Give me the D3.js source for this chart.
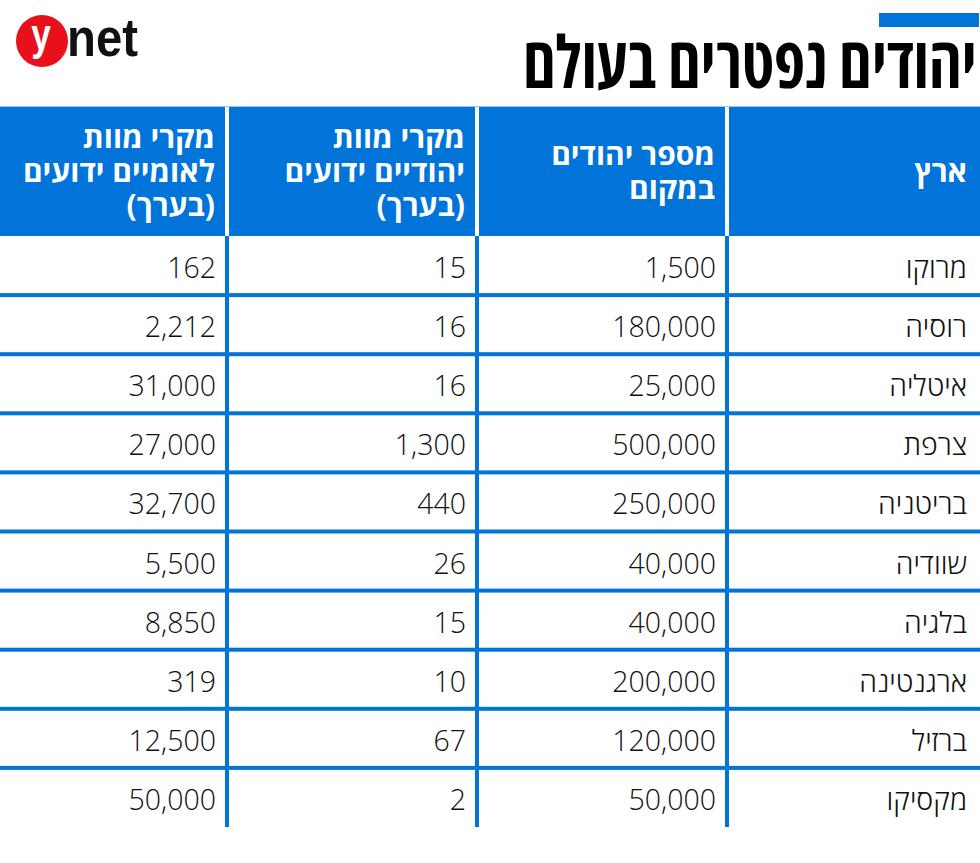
<!DOCTYPE html>
<html lang="he">
<head>
<meta charset="utf-8">
<script src="https://cdn.jsdelivr.net/npm/d3@7"></script>
<style>
  html, body { margin: 0; padding: 0; background: #fff; }
  svg { display: block; }
</style>
</head>
<body>
<svg id="chart" width="980" height="863"></svg>
<script>
// ---- data ----
const titleText = "יהודים נפטרים בעולם";
const headers = [
  ["ארץ"],
  ["מספר יהודים", "במקום"],
  ["מקרי מוות", "יהודיים ידועים", "(בערך)"],
  ["מקרי מוות", "לאומיים ידועים", "(בערך)"]
];
const countries = ["מרוקו", "רוסיה", "איטליה", "צרפת", "בריטניה", "שוודיה", "בלגיה", "ארגנטינה", "ברזיל", "מקסיקו"];
const jewishPopulation = [1500, 180000, 25000, 500000, 250000, 40000, 40000, 200000, 120000, 50000];
const jewishDeaths = [15, 16, 16, 1300, 440, 26, 15, 10, 67, 2];
const nationalDeaths = [162, 2212, 31000, 27000, 32700, 5500, 8850, 319, 12500, 50000];

// ---- styles ----
const W = 980, H = 863;
const BLUE = "#0074d9";
const FONT = "'Open Sans', 'DejaVu Sans', sans-serif";
const LOGO_FONT = "'Liberation Sans', Arial, sans-serif";

const svg = d3.select("#chart");

// columns (right to left)
const colIdx = d3.range(headers.length);
const x = d3.scaleBand().domain(colIdx).range([977, -23]); // col 0 at right
const rows = d3.range(countries.length);
const headerTop = 107, headerBottom = 236, bodyBottom = 827;
const y = d3.scaleBand().domain(rows).range([headerBottom, bodyBottom]);

const fmt = d3.format(",");
const columnsData = [
  countries,
  jewishPopulation.map(fmt),
  jewishDeaths.map(fmt),
  nationalDeaths.map(fmt)
];

// ---- logo ----
const logo = svg.append("g");
logo.append("ellipse").attr("cx", 42).attr("cy", 41).attr("rx", 26).attr("ry", 26).attr("fill", "#e8111b");
logo.append("text").text("y")
  .attr("x", 0).attr("y", 0).attr("text-anchor", "middle")
  .attr("font-family", LOGO_FONT).attr("font-weight", 700).attr("font-size", 44)
  .attr("fill", "#fff")
  .attr("transform", "translate(41,50) scale(0.8,1)");
const net = logo.append("text").text("net")
  .attr("x", 0).attr("y", 0)
  .attr("font-family", LOGO_FONT).attr("font-weight", 700).attr("font-size", 54)
  .attr("fill", "#111");
{
  const bb = net.node().getBBox();
  const sx = 71 / bb.width;
  net.attr("transform", `translate(67,56) scale(${sx},1)`);
}

// ---- title ----
svg.append("rect").attr("x", 879).attr("y", 13).attr("width", 100).attr("height", 14).attr("fill", BLUE);
const title = svg.append("text").text(titleText)
  .attr("x", 0).attr("y", 0)
  .attr("direction", "rtl")
  .attr("text-anchor", "start")
  .attr("font-family", FONT).attr("font-weight", 700).attr("font-size", 72)
  .style("font-stretch", "75%")
  .attr("fill", "#000");
{
  const bb = title.node().getBBox();
  const sx = 454 / bb.width;
  title.attr("transform", `translate(977,88) scale(${sx},1)`);
}

// ---- header cells ----
const hdr = svg.append("g");
hdr.append("rect").attr("x", 0).attr("y", headerTop - 1).attr("width", W).attr("height", 1).attr("fill", "#9cc8f0");
colIdx.forEach(i => {
  let left = x(i) + (i === headers.length - 1 ? 0 : 2);
  let right = x(i) + x.bandwidth() - (i === 0 ? -3 : 2);
  left = Math.max(0, left);
  hdr.append("rect").attr("x", left).attr("y", headerTop).attr("width", right - left)
    .attr("height", headerBottom - headerTop).attr("fill", BLUE);
  const lines = headers[i];
  const lh = 34;
  const cy = (headerTop + headerBottom) / 2;
  const firstBase = cy - (lines.length - 1) * lh / 2 + 10;
  const t = hdr.append("text")
    .attr("direction", "rtl").attr("text-anchor", "start")
    .attr("font-family", FONT).attr("font-weight", 700).attr("font-size", 30)
    .attr("fill", "#fff");
  lines.forEach((ln, k) => {
    t.append("tspan").attr("x", x(i) + x.bandwidth() - (i === 0 ? 10 : 12))
      .attr("y", firstBase + k * lh).text(ln);
  });
});

// ---- body ----
const body = svg.append("g");
rows.slice(1).forEach(r => {
  body.append("rect").attr("x", 0).attr("y", y(r) - 2).attr("width", W).attr("height", 4).attr("fill", BLUE);
});
colIdx.slice(1).forEach(i => {
  body.append("rect").attr("x", x(i) + x.bandwidth() - 2).attr("y", headerBottom)
    .attr("width", 4).attr("height", bodyBottom - headerBottom).attr("fill", BLUE);
});
colIdx.forEach(i => {
  rows.forEach(r => {
    const isHeb = i === 0;
    body.append("text")
      .attr("x", x(i) + x.bandwidth() - (i === 0 ? 10 : 11))
      .attr("y", y(r) + y.bandwidth() / 2 + 12.5)
      .attr("direction", isHeb ? "rtl" : "ltr")
      .attr("text-anchor", isHeb ? "start" : "end")
      .attr("font-family", FONT).attr("font-weight", 300).attr("font-size", 28.5)
      .attr("fill", "#111")
      .text(columnsData[i][r]);
  });
});
</script>
</body>
</html>
